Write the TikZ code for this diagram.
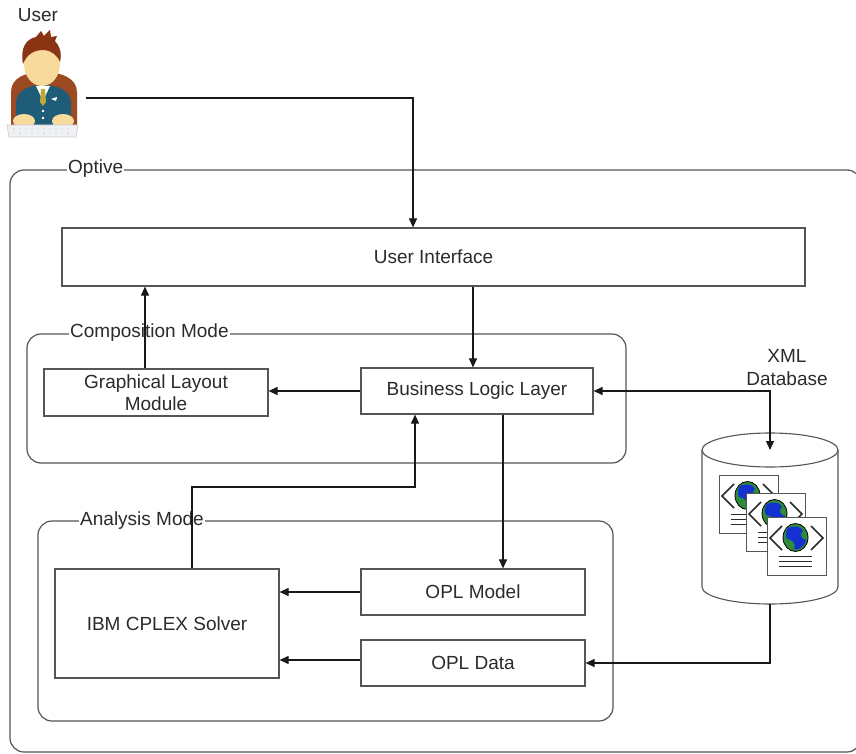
\documentclass[tikz,border=0pt]{standalone}
\usepackage{fontspec}
\setmainfont{Liberation Sans}
\usetikzlibrary{arrows.meta}
\definecolor{ink}{HTML}{2B2B2B}
\definecolor{edge}{HTML}{555555}
\definecolor{chairbrown}{HTML}{9C4A22}
\definecolor{hairbrown}{HTML}{8A3414}
\definecolor{skin}{HTML}{F8DA9C}
\definecolor{suit}{HTML}{1E5C78}
\definecolor{tiegold}{HTML}{B9AA3E}
\definecolor{keys}{HTML}{EEF0F3}
\definecolor{land}{HTML}{2E8B3A}
\definecolor{sea}{HTML}{1530D0}
\tikzset{
  xmldoc/.pic={
    \draw[fill=white, draw=edge, line width=1pt] (0,0) rectangle (59,58);
    \draw[ink, line width=1.6pt] (15,9) -- (3,21) -- (15,33);
    \draw[ink, line width=1.6pt] (44,9) -- (56,21) -- (44,33);
    \fill[land, draw=black, line width=0.8pt] (28.5,20.5) ellipse [x radius=12.5, y radius=14];
    \fill[sea] (21,11) .. controls (27,8) and (34,9) .. (36,14)
               .. controls (32,17) and (34,22) .. (39,23)
               .. controls (37,30) and (31,34) .. (27,32)
               .. controls (30,27) and (25,22) .. (20,22)
               .. controls (18,18) and (19,14) .. (21,11) -- cycle;
    \draw[ink, line width=1pt] (12,39) -- (45,39) (12,44) -- (45,44) (12,49) -- (45,49);
  },
  every node/.style={font=\fontsize{19}{22}\selectfont, text=ink},
  box/.style={draw=edge, line width=1.2pt, fill=white, align=center, inner sep=0pt},
  frame/.style={draw=edge, line width=1.2pt, rounded corners=14pt},
  tag/.style={fill=white, inner sep=1pt, anchor=west},
  conn/.style={draw=black!90, line width=1.1pt, -{Triangle[length=9pt, width=8pt]}},
}
\begin{document}
\begin{tikzpicture}[x=1pt, y=-1pt]
\clip (0,0) rectangle (856,754);
\fill[white] (0,0) rectangle (856,754);

% ---- user figure ----
\node (userlbl) at (38,15) {User};
\begin{scope}
  % chair back
  \fill[chairbrown] (11,126) -- (11,92) .. controls (11,78) and (25,72) .. (43,72)
        .. controls (61,72) and (77,78) .. (77,92) -- (77,126) -- cycle;
  % jacket
  \fill[suit] (16,127) -- (16,103) .. controls (16,91) and (28,85) .. (43,85)
        .. controls (58,85) and (71,91) .. (71,103) -- (71,127) -- cycle;
  \fill[white] (36,86) -- (43,101) -- (50,86) -- cycle;
  \fill[tiegold] (41,89) -- (45,89) -- (46,102) -- (43,106) -- (40,102) -- cycle;
  \fill[white] (51,99) -- (57,97) -- (56,101) -- cycle;
  \fill[white] (43,111) circle (1.3) (43,118) circle (1.3);
  % head and hair
  \fill[skin] (42,64) ellipse [x radius=18, y radius=22];
  \fill[hairbrown] (23,64) .. controls (20,48) and (26,39) .. (36,37)
        -- (41,31) -- (44,36) -- (50,30) -- (51,37) -- (57,36) -- (55,41)
        .. controls (60,46) and (62,54) .. (60,62)
        .. controls (57,55) and (52,51) .. (44,50)
        .. controls (34,50) and (27,54) .. (23,64) -- cycle;
  % hands and keyboard
  \fill[skin] (24,121) ellipse [x radius=11, y radius=7];
  \fill[skin] (63,121) ellipse [x radius=11, y radius=7];
  \fill[keys, draw=black!20, line width=0.6pt] (7,125) -- (78,125) -- (76,137) -- (9,137) -- cycle;
  \foreach \k in {14,20,...,72} {\fill[black!25] (\k,129) circle (0.7) (\k,133) circle (0.7);}
\end{scope}
\coordinate (userout) at (86,98);

% ---- containers ----
\draw[frame] (10,170) rectangle (861,752);
\node[tag] (optive) at (67,169) {Optive};
\draw[frame] (27,334) rectangle (626,463);
\node[tag] (compmode) at (69,333) {Composition Mode};
\draw[frame] (38,521) rectangle (613,721);
\node[tag] (anamode) at (79,521) {Analysis Mode};

% ---- components ----
\node[box, minimum width=743pt, minimum height=58pt] (ui) at (433.5,257) {User Interface};
\node[box, minimum width=224pt, minimum height=47pt, font=\fontsize{19}{22}\selectfont] (glm) at (156,392.5) {Graphical Layout\\Module};
\node[box, minimum width=232pt, minimum height=46pt] (bll) at (477,391) {Business Logic Layer};
\node[box, minimum width=224pt, minimum height=109pt] (cplex) at (167,623.5) {IBM CPLEX Solver};
\node[box, minimum width=224pt, minimum height=46pt] (oplm) at (473,592) {OPL Model};
\node[box, minimum width=224pt, minimum height=46pt] (opld) at (473,663) {OPL Data};

% ---- XML database ----
\node[align=center, font=\fontsize{19}{23}\selectfont] (dblbl) at (787,368) {XML\\Database};
\fill[white] (702,450) -- (702,587) .. controls (702,596.4) and (732.4,604) .. (770,604)
      .. controls (807.6,604) and (838,596.4) .. (838,587) -- (838,450) -- cycle;
\draw[edge, line width=1.1pt] (702,450) -- (702,587) .. controls (702,596.4) and (732.4,604) .. (770,604)
      .. controls (807.6,604) and (838,596.4) .. (838,587) -- (838,450);
\draw[edge, line width=1.1pt, fill=white] (770,450) ellipse [x radius=68, y radius=17];
\pic at (719,475) {xmldoc};
\pic at (746,493) {xmldoc};
\pic at (767,517) {xmldoc};
\coordinate (dbtop) at (770,450);
\coordinate (dbbot) at (770,604);

% ---- connectors ----
\coordinate (uix) at (413,0);
\coordinate (bx) at (473,0);
\coordinate (gx) at (145,0);
\coordinate (mx) at (503,0);
\coordinate (lx) at (415,0);
\coordinate (jog) at (192,487);
\draw[conn] (userout) -| (ui.north -| uix);
\draw[conn] (ui.south -| bx) -- (bll.north -| bx);
\draw[conn] (glm.north -| gx) -- (ui.south -| gx);
\draw[conn] (bll.west) -- (bll.west -| glm.east);
\draw[conn, {Triangle[length=9pt, width=8pt]}-{Triangle[length=9pt, width=8pt]}] (bll.east) -| (dbtop);
\draw[conn] (bll.south -| mx) -- (oplm.north -| mx);
\draw[conn] (cplex.north -| jog) -- (jog) -| (bll.south -| lx);
\draw[conn] (oplm.west) -- (oplm.west -| cplex.east);
\draw[conn] ([yshift=3pt]opld.west) -- ([yshift=3pt]opld.west -| cplex.east);
\draw[conn] (dbbot) |- (opld.east);
\end{tikzpicture}
\end{document}
